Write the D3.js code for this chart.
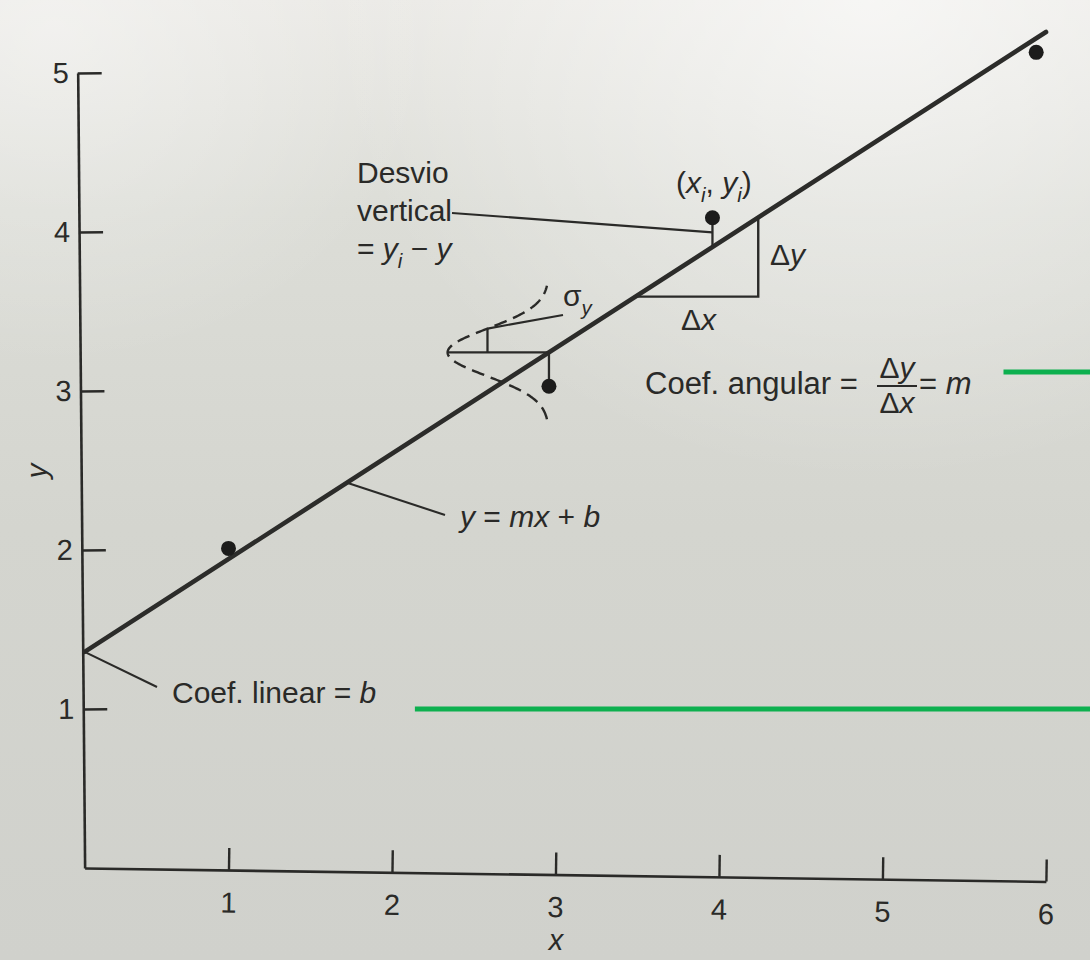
<!DOCTYPE html>
<html>
<head>
<meta charset="utf-8">
<script src="https://cdn.jsdelivr.net/npm/d3@7"></script>
<style>
  html, body { margin: 0; padding: 0; background: #d8d8d2; }
  svg { display: block; }
  text { font-family: "Liberation Sans", Arial, Helvetica, sans-serif; fill: #2a2a28; white-space: pre; }
</style>
</head>
<body>
<svg id="chart" width="1090" height="960"></svg>
<script>
// ---- data ----
const xTicks = [1, 2, 3, 4, 5, 6];
const yTicks = [1, 2, 3, 4, 5];
const pointX = [1.0, 2.96, 3.96, 5.94];
const pointY = [2.01, 3.03, 4.09, 5.13];
// fitted straight line y = m x + b
const slope = 0.663;
const intercept = 1.28;
const lineEndX = 6.0;
const axisStartX = 0.12;            // where the y axis meets the x axis
// slope triangle (Δx run along the line)
const triangleX = [3.49, 4.24];
// bell curve of the scatter around the line at the second highlighted point
const bellIndex = 1;
const bellSigma = 0.15;             // σy in y units
const bellHeight = 0.62;            // drawn width of the bell in x units
const bellSpan = 0.42;              // half extent of the bell in y units
// highlight rules (y level, x start)
const ruleY = [3.12, 1.0];
const ruleStartX = [5.74, 2.14];

// ---- scales ----
const W = 1090, H = 960;
const x = d3.scaleLinear().domain([0, 6]).range([65, 1046]);
const y = d3.scaleLinear().domain([0, 5]).range([868, 73]);
const fit = v => intercept + slope * v;
const x0 = x(axisStartX), y0 = y(0);

const ink = "#2a2a28";
const svg = d3.select("#chart");

// ---- paper background ----
const defs = svg.append("defs");
const lg = defs.append("linearGradient").attr("id", "paper")
  .attr("x1", 0).attr("y1", 0).attr("x2", 0).attr("y2", 1);
[[0, "#eae9e5"], [0.22, "#dcddd7"], [0.55, "#d4d5cf"], [1, "#d0d1cc"]]
  .forEach(([o, c]) => lg.append("stop").attr("offset", o).attr("stop-color", c));
const rg = defs.append("radialGradient").attr("id", "glare")
  .attr("cx", 0.8).attr("cy", 0.0).attr("r", 0.5);
rg.append("stop").attr("offset", 0).attr("stop-color", "#ffffff").attr("stop-opacity", 0.6);
rg.append("stop").attr("offset", 1).attr("stop-color", "#ffffff").attr("stop-opacity", 0);
const rg2 = defs.append("radialGradient").attr("id", "glare2")
  .attr("cx", 0.05).attr("cy", 0.03).attr("r", 0.35);
rg2.append("stop").attr("offset", 0).attr("stop-color", "#ffffff").attr("stop-opacity", 0.4);
rg2.append("stop").attr("offset", 1).attr("stop-color", "#ffffff").attr("stop-opacity", 0);
svg.append("rect").attr("width", W).attr("height", H).attr("fill", "url(#paper)");
svg.append("rect").attr("width", W).attr("height", H).attr("fill", "url(#glare)");
svg.append("rect").attr("width", W).attr("height", H).attr("fill", "url(#glare2)");

// ---- rich text helper (italics and subscripts) ----
function rich(parent, px, py, parts, size, anchor) {
  const t = parent.append("text").attr("x", px).attr("y", py)
    .attr("font-size", size).attr("text-anchor", anchor || "start");
  let shift = 0;
  parts.forEach(p => {
    const s = t.append("tspan").text(p.t);
    if (p.i) s.attr("font-style", "italic");
    const target = p.sub ? size * 0.3 : 0;
    if (target !== shift) { s.attr("dy", target - shift); shift = target; }
    if (p.sub) s.attr("font-size", size * 0.68);
  });
  return t;
}

// ---- axes ----
const yAxis = d3.axisLeft(y).tickValues(yTicks).tickSizeInner(-24).tickSizeOuter(0)
  .tickPadding(9).tickFormat(d3.format("d"));
const gy = svg.append("g")
  .attr("transform", `rotate(-0.5, ${x0}, ${y0}) translate(${x0},0)`)
  .call(yAxis);

const xAxisScale = x.copy().domain([axisStartX, 6]).range([x0, x(6)]);
const xAxis = d3.axisBottom(xAxisScale).tickValues(xTicks).tickSizeInner(-22).tickSizeOuter(0)
  .tickPadding(22).tickFormat(d3.format("d"));
const gx = svg.append("g")
  .attr("transform", `rotate(0.8, ${x0}, ${y0}) translate(0,${y0})`)
  .call(xAxis);

[gx, gy].forEach(g => {
  g.attr("font-size", 29).attr("font-family", "\"Liberation Sans\", Arial, sans-serif");
  g.select(".domain").attr("stroke", ink).attr("stroke-width", 2.6);
  g.selectAll(".tick line").attr("stroke", ink).attr("stroke-width", 2.4);
  g.selectAll(".tick text").attr("fill", ink);
});

svg.append("text").attr("x", 556).attr("y", 950).attr("font-size", 29)
  .attr("font-style", "italic").attr("text-anchor", "middle").text("x");
svg.append("text").attr("transform", "translate(47,471) rotate(-90)")
  .attr("font-size", 29).attr("font-style", "italic").attr("text-anchor", "middle").text("y");

// ---- fitted line ----
svg.append("path")
  .datum([axisStartX, lineEndX])
  .attr("d", d3.line().x(d => x(d)).y(d => y(fit(d))))
  .attr("stroke", "#2c2c2a").attr("stroke-width", 4.6).attr("fill", "none")
  .attr("stroke-linecap", "round");

// ---- slope triangle ----
svg.append("path")
  .datum([[triangleX[0], fit(triangleX[0])], [triangleX[1], fit(triangleX[0])], [triangleX[1], fit(triangleX[1])]])
  .attr("d", d3.line().x(d => x(d[0])).y(d => y(d[1])))
  .attr("stroke", ink).attr("stroke-width", 2.4).attr("fill", "none");

// ---- residuals of the two highlighted points ----
[1, 2].forEach(i => {
  svg.append("line")
    .attr("x1", x(pointX[i])).attr("x2", x(pointX[i]))
    .attr("y1", y(pointY[i])).attr("y2", y(fit(pointX[i])))
    .attr("stroke", ink).attr("stroke-width", 2.3);
});

// ---- bell curve of σy ----
const bx = pointX[bellIndex];
const by = fit(bx);
const bell = d3.range(-bellSpan, bellSpan + 1e-9, bellSpan / 80).map(dy =>
  [bx - bellHeight * Math.exp(-dy * dy / (2 * bellSigma * bellSigma)), by + dy]);
svg.append("path").datum(bell)
  .attr("d", d3.line().x(d => x(d[0])).y(d => y(d[1])))
  .attr("stroke", ink).attr("stroke-width", 2.4).attr("fill", "none")
  .attr("stroke-dasharray", "13,7");
// horizontal from the bell peak to the line
svg.append("line")
  .attr("x1", x(bx - bellHeight)).attr("x2", x(bx))
  .attr("y1", y(by)).attr("y2", y(by))
  .attr("stroke", ink).attr("stroke-width", 2.3);
// σ marker
const sx = bx - bellHeight * Math.exp(-0.5);
svg.append("line")
  .attr("x1", x(sx)).attr("x2", x(sx))
  .attr("y1", y(by)).attr("y2", y(by + bellSigma))
  .attr("stroke", ink).attr("stroke-width", 2.3);
svg.append("line")
  .attr("x1", x(sx)).attr("y1", y(by + bellSigma))
  .attr("x2", 563).attr("y2", 315)
  .attr("stroke", ink).attr("stroke-width", 2.1);

// ---- points ----
svg.selectAll("circle.pt").data(pointX.map((v, i) => [v, pointY[i]]))
  .join("circle").attr("class", "pt")
  .attr("cx", d => x(d[0])).attr("cy", d => y(d[1])).attr("r", 7.5)
  .attr("fill", "#1c1c1b");

// ---- leaders ----
const lead = (x1, y1, x2, y2) => svg.append("line")
  .attr("x1", x1).attr("y1", y1).attr("x2", x2).attr("y2", y2)
  .attr("stroke", ink).attr("stroke-width", 2.1);
lead(452, 213, x(pointX[2]), y((pointY[2] + fit(pointX[2])) / 2));   // Desvio vertical
lead(x(1.725), y(fit(1.725)), 445, 515);                                // y = mx + b
lead(x0, y(fit(axisStartX)), 157, 687);                                 // Coef. linear

// ---- labels ----
const fs = 30;
svg.append("text").attr("x", 357).attr("y", 183).attr("font-size", fs).text("Desvio");
svg.append("text").attr("x", 357).attr("y", 221).attr("font-size", fs).text("vertical");
rich(svg, 357, 259, [{t: "= "}, {t: "y", i: true}, {t: "i", i: true, sub: true}, {t: " − "}, {t: "y", i: true}], fs);

rich(svg, 676, 193, [{t: "("}, {t: "x", i: true}, {t: "i", i: true, sub: true}, {t: ", "},
  {t: "y", i: true}, {t: "i", i: true, sub: true}, {t: ")"}], fs);

rich(svg, 770, 265, [{t: "Δ"}, {t: "y", i: true}], fs);
rich(svg, 681, 330, [{t: "Δ"}, {t: "x", i: true}], fs);
rich(svg, 563, 306, [{t: "σ"}, {t: "y", i: true, sub: true}], fs);

svg.append("text").attr("x", 645).attr("y", 394).attr("font-size", 31).text("Coef. angular =");
rich(svg, 897, 378, [{t: "Δ"}, {t: "y", i: true}], fs, "middle");
svg.append("line").attr("x1", 877).attr("x2", 917).attr("y1", 386).attr("y2", 386)
  .attr("stroke", ink).attr("stroke-width", 1.8);
rich(svg, 897, 413, [{t: "Δ"}, {t: "x", i: true}], fs, "middle");
rich(svg, 919, 394, [{t: "= "}, {t: "m", i: true}], 31);

rich(svg, 460, 527, [{t: "y", i: true}, {t: " = "}, {t: "mx", i: true}, {t: " + "}, {t: "b", i: true}], fs);
rich(svg, 172, 703, [{t: "Coef. linear = "}, {t: "b", i: true}], fs);

// ---- highlight rules ----
ruleY.forEach((v, i) => {
  svg.append("line")
    .attr("x1", x(ruleStartX[i])).attr("x2", W)
    .attr("y1", y(v)).attr("y2", y(v))
    .attr("stroke", "#0db04f").attr("stroke-width", 5);
});
</script>
</body>
</html>
